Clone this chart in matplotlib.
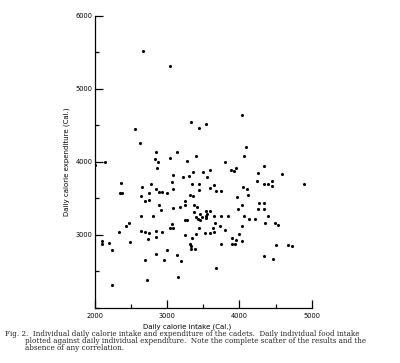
import matplotlib
matplotlib.use("Agg")
import matplotlib.pyplot as plt
from matplotlib.ticker import MultipleLocator

# Daily calorie intake (Cal.) for each cadet
intake = [
    2668, 3045, 2557, 2622, 3336, 3442, 3535, 4041, 4092, 4064, 2843, 2834, 3045, 3138, 3396,
    2871, 2862, 2142, 2010, 3088, 3065, 3083, 2364, 2345, 2377, 2654, 2779, 2843, 2889, 2926,
    2995, 2746, 2640, 2700, 2746, 2894, 2912, 3088, 2640, 2801, 2470, 3064,
    3271, 3797, 3889, 3921, 3954, 3594, 3502, 3553, 3221, 3299, 3364, 3340, 3446, 3446, 3594,
    3649, 3672, 3741, 3317, 3354, 3967, 4050, 4101, 4120, 4036, 3981, 3248, 3248, 3179, 3368,
    3419, 3534, 3589, 3368, 3451, 3396, 3479, 3534, 3557, 3645, 3741, 3838, 3433, 3460, 3539,
    3248, 3281, 3659, 4064, 4129, 4220,
    4345, 4257, 4594, 4898, 4239, 4345, 4400, 4447, 4447, 4267, 4340, 4253, 4345, 4396, 4354,
    4488, 4539,
    2433, 2336, 2096, 2101, 2198, 2239, 2239, 2493, 2645, 2700, 2751, 2742, 2852, 2931, 2852,
    3041, 3078, 2696, 2852, 3004, 2958, 2719,
    3248, 3341, 3396, 3442, 3525, 3599, 3640, 3654, 3728, 3802, 4032, 3990, 3903, 3949, 4037,
    3894, 3944, 3746, 3317, 3331, 3336, 3387, 3133, 3193, 3156, 3677,
    4506, 4672, 4723, 4345, 4465,
]
# Daily calorie expenditure (Cal.) for each cadet
expenditure = [
    5526, 5320, 4452, 4252, 4553, 4462, 4521, 4644, 4197, 4074, 4137, 4037, 4055, 4133, 4074,
    4000, 3918, 4000, 3960, 3817, 3726, 3625, 3712, 3575, 3575, 3657, 3703, 3625, 3580, 3589,
    3566, 3566, 3529, 3465, 3474, 3415, 3337, 3374, 3264, 3255, 3155, 3145,
    4009, 3995, 3895, 3877, 3922, 3895, 3863, 3794, 3794, 3803, 3858, 3694, 3703, 3612, 3648,
    3676, 3598, 3598, 3552, 3529, 3520, 3657, 3630, 3552, 3415, 3360, 3461, 3415, 3383, 3402,
    3383, 3328, 3328, 3310, 3283, 3246, 3246, 3264, 3283, 3255, 3260, 3260, 3214, 3200, 3228,
    3209, 3200, 3164, 3255, 3219, 3219,
    3941, 3849, 3840, 3698, 3739, 3698, 3698, 3744, 3662, 3442, 3442, 3360, 3360, 3260, 3155,
    3159, 3136,
    3119, 3032, 2918, 2877, 2882, 2786, 2306, 2905, 3055, 3037, 3019, 2936, 3055, 3037, 2964,
    3096, 3096, 2658, 2740, 2790, 2653, 2379,
    2996, 2959, 3010, 3092, 3028, 3028, 3092, 3032, 3124, 3069, 3115, 3010, 2950, 2927, 2914,
    2868, 2868, 2868, 2877, 2850, 2799, 2799, 2722, 2639, 2425, 2543,
    2863, 2863, 2841, 2708, 2662,
]

x_ticks = [2000, 3000, 4000, 5000]
y_ticks = [3000, 4000, 5000, 6000]
x_label = "Daily calorie intake (Cal.)"
y_label = "Daily calorie expenditure (Cal.)"
caption_lines = [
    "Fig. 2.  Individual daily calorie intake and expenditure of the cadets.  Daily individual food intake",
    "plotted against daily individual expenditure.  Note the complete scatter of the results and the",
    "absence of any correlation.",
]

fig = plt.figure(figsize=(4.0, 3.63), dpi=100)
W, H = 400, 363
ax = fig.add_axes([94.7 / W, (H - 307.7) / H, 217 / W, 291.7 / H])

ax.scatter(intake, expenditure, s=5, c="black", linewidths=0, zorder=3)

ax.set_xlim(2000, 5000)
ax.set_ylim(2000, 6000)
for side in ("top", "right"):
    ax.spines[side].set_visible(False)
for side in ("left", "bottom"):
    ax.spines[side].set_linewidth(0.9)
    ax.spines[side].set_color("black")

ax.set_xticks(x_ticks)
ax.set_yticks(y_ticks)
ax.xaxis.set_minor_locator(MultipleLocator(500))
ax.yaxis.set_minor_locator(MultipleLocator(500))
ax.tick_params(which="major", direction="in", length=6, width=0.9, labelsize=4.8,
               colors="black")
ax.tick_params(which="minor", direction="in", length=3, width=0.9)
ax.tick_params(axis="x", pad=4)
ax.tick_params(axis="y", pad=1.5)

ax.set_xlabel(x_label, fontsize=5)
ax.xaxis.set_label_coords((186.7 - 94.7) / 217, -(324 - 307.7) / 291.7)
ax.set_ylabel(y_label, fontsize=5)
ax.yaxis.set_label_coords(-(94.7 - 70) / 217, 0.5)

cap_font = dict(family="DejaVu Serif", fontsize=5.2, color="#222222", va="center")
fig.text(5 / W, 1 - 334.3 / H, caption_lines[0], **cap_font)
fig.text(25 / W, 1 - 341.3 / H, caption_lines[1], **cap_font)
fig.text(25 / W, 1 - 348.3 / H, caption_lines[2], **cap_font)

fig.savefig("out.png", dpi=100, facecolor="white")
